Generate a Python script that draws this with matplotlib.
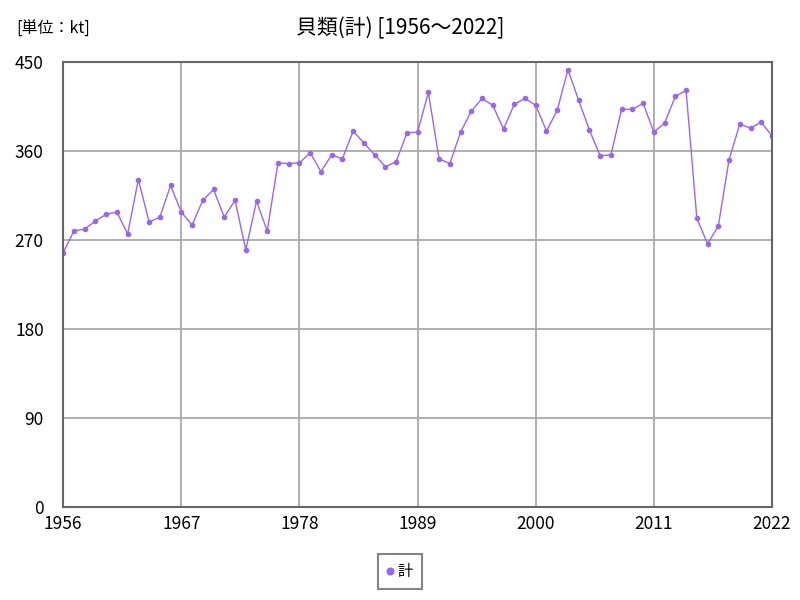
import matplotlib
matplotlib.use("Agg")
import matplotlib.pyplot as plt

plt.rcParams['font.family'] = ['Noto Sans CJK JP', 'DejaVu Sans']

years = list(range(1956, 2023))
values = [
    257, 279, 281, 289, 296, 298, 276, 331, 288, 293,
    325, 298, 285, 310, 321, 293, 310, 260, 309, 279,
    348, 347, 348, 358, 339, 356, 352, 380, 368, 356,
    344, 349, 378, 379, 419, 352, 347, 379, 400, 413,
    406, 382, 407, 413, 406, 380, 401, 442, 411, 381,
    355, 356, 402, 402, 408, 379, 388, 415, 421, 292,
    266, 284, 351, 387, 383, 389, 375,
]
xticks = [1956, 1967, 1978, 1989, 2000, 2011, 2022]
yticks = [0, 90, 180, 270, 360, 450]

line_color = '#9966EE'

fig = plt.figure(figsize=(8, 6), dpi=100)
ax = fig.add_axes([0.079, 0.155, 0.886, 0.742])

ax.plot(years, values, color=line_color, linewidth=1, marker='o',
        markersize=3, label='計')

ax.set_xlim(1956, 2022)
ax.set_ylim(0, 450)
ax.set_xticks(xticks)
ax.set_yticks(yticks)
ax.grid(True, color='#aaaaaa', linewidth=1.3)
ax.set_axisbelow(True)
ax.tick_params(length=0, labelsize=12.5)
ax.tick_params(axis='y', pad=14)
ax.tick_params(axis='x', pad=6)
for s in ax.spines.values():
    s.set_color('#666666')
    s.set_linewidth(1.5)

fig.text(0.5, 0.953, '貝類(計) [1956～2022]', ha='center', va='center', fontsize=15)
fig.text(0.02, 0.952, '[単位：kt]', ha='left', va='center', fontsize=11.5)

leg = fig.legend(loc='center', bbox_to_anchor=(0.5, 0.047), fontsize=11,
                 handlelength=0.4, handletextpad=0.3, fancybox=False,
                 borderpad=0.6, markerscale=1.6)
leg.get_frame().set_edgecolor('#666666')
leg.get_frame().set_linewidth(1.5)
for h in leg.legend_handles:
    h.set_linestyle('None')

fig.savefig('out.png', dpi=100, facecolor='white')
